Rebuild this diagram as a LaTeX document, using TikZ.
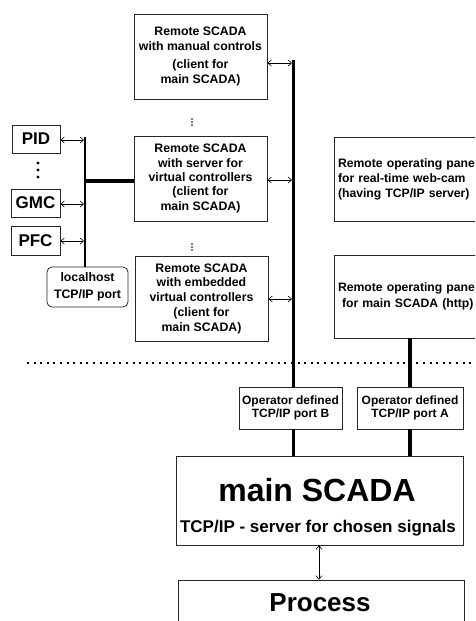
\documentclass[tikz,border=0pt]{standalone}
\usepackage{fontspec}
\setmainfont{Liberation Sans}
\usetikzlibrary{arrows.meta}
\begin{document}
\begin{tikzpicture}[x=1pt,y=-1pt,
  box/.style={draw=black!85,line width=0.8pt,inner sep=0pt,align=center,font=\bfseries},
  rsc/.style={box,minimum width=133pt,minimum height=85pt},
  txt/.style={inner sep=0pt,font=\bfseries},
  bus/.style={line width=3pt},
  busA/.style={line width=3.6pt},
  lbus/.style={line width=2.5pt},
  hbus/.style={line width=4pt},
  biarrow/.style={line width=0.6pt,{Straight Barb[length=3.5pt,width=6pt]}-{Straight Barb[length=3.5pt,width=6pt]}},
  dotline/.style={line width=2pt,dash pattern=on 2pt off 4.6pt}
]
\useasboundingbox (0,0) rectangle (475,621);
\clip (0,0) rectangle (475,621);

% Remote SCADA boxes
\node[rsc,font=\bfseries\fontsize{12.3}{15.5}\selectfont] (manual) at (200.5,56.5)
  {Remote SCADA\\with manual controls\\[2pt](client for\\main SCADA)};
\node[rsc,font=\bfseries\fontsize{12.3}{14.3}\selectfont] (server) at (200.5,178.5)
  {Remote SCADA\\with server for\\virtual controllers\\(client for\\main SCADA)};
\node[rsc,font=\bfseries\fontsize{12.3}{14.5}\selectfont] (embedded) at (201.5,298.5)
  {Remote SCADA\\with embedded\\virtual controllers\\[1pt](client for\\main SCADA)};

% right panels
\node[box,minimum width=147pt,minimum height=84pt,text width=139pt,align=left,
  font=\bfseries\fontsize{12.2}{15}\selectfont] (webcam) at (407.5,179)
  {Remote operating pane\\for real-time web-cam\\(having TCP/IP server)};
\node[box,minimum width=147pt,minimum height=83pt,text width=139pt,align=left,
  font=\bfseries\fontsize{12.2}{15.5}\selectfont] (http) at (407.5,296.5)
  {Remote operating pane\\\hspace*{4pt}for main SCADA (http)};

% ports
\node[box,minimum width=103pt,minimum height=42pt,font=\bfseries\fontsize{12}{13.4}\selectfont] (portB) at (290.5,408)
  {Operator defined\\TCP/IP port B};
\node[box,minimum width=106pt,minimum height=42pt,font=\bfseries\fontsize{12}{13.4}\selectfont] (portA) at (410,408)
  {Operator defined\\TCP/IP port A};

% main SCADA and Process
\node[box,minimum width=287pt,minimum height=89pt] (main) at (319.5,500.5) {};
\node[txt,anchor=base,font=\bfseries\fontsize{32}{32}\selectfont] (mainT) at (317,501.5) {main SCADA};
\node[txt,anchor=base,font=\bfseries\fontsize{17}{17}\selectfont] (mainS) at (318,532) {TCP/IP - server for chosen signals};
\node[box,minimum width=286pt,minimum height=70pt] (process) at (321,615) {};
\node[txt,anchor=base,font=\bfseries\fontsize{26}{26}\selectfont] (procT) at (320,611.3) {Process};

% left devices
\node[box,minimum width=48pt,minimum height=28pt,font=\bfseries\fontsize{17}{17}\selectfont] (PID) at (36,139) {PID};
\node[box,minimum width=49pt,minimum height=28pt,font=\bfseries\fontsize{17}{17}\selectfont] (GMC) at (35.5,203) {GMC};
\node[box,minimum width=49pt,minimum height=29pt,font=\bfseries\fontsize{17}{17}\selectfont] (PFC) at (35.5,240.5) {PFC};
\node[box,rounded corners=5pt,minimum width=81pt,minimum height=40pt,font=\bfseries\fontsize{12.3}{17}\selectfont] (local) at (87.5,287)
  {localhost\\TCP/IP port};

% vertical dots
\foreach \yy in {119,122,125} \fill (192,\yy) circle (0.8pt);
\foreach \yy in {244,247,250} \fill (192,\yy) circle (0.8pt);
\foreach \yy in {163,170,177} \fill (38,\yy) circle (1.6pt);

% main bus
\coordinate (busTop) at (293.5,60);
\draw[bus] (busTop) -- (busTop |- portB.north);
\draw[bus] (busTop |- portB.south) -- (busTop |- main.north);
% port A line
\draw[busA] (http.south -| portA.north) -- (portA.north);
\draw[busA] (portA.south) -- (portA.south |- main.north);

% arrows to main bus
\coordinate (m1) at (292,63);
\coordinate (m2) at (292,180);
\coordinate (m3) at (292,299);
\draw[biarrow] (m1 -| manual.east) -- (m1);
\draw[biarrow] (m2 -| server.east) -- (m2);
\draw[biarrow] (m3 -| embedded.east) -- (m3);

% left bus
\coordinate (lbTop) at (85,137);
\draw[lbus] (lbTop) -- (lbTop |- local.north);
\coordinate (lbJ) at (85,181);
\draw[hbus] (lbJ) -- (lbJ -| server.west);
\coordinate (l1) at (84,140);
\coordinate (l2) at (84,204);
\coordinate (l3) at (84,241);
\draw[biarrow] (l1 -| PID.east) -- (l1);
\draw[biarrow] (l2 -| GMC.east) -- (l2);
\draw[biarrow] (l3 -| PFC.east) -- (l3);

% main SCADA <-> Process
\draw[biarrow] (main.south -| 319,0) -- (process.north -| 319,0);

% dotted separator
\coordinate (sepL) at (27,363);
\coordinate (sepR) at (476,363);
\draw[dotline] (sepL) -- (sepR);
\end{tikzpicture}
\end{document}
